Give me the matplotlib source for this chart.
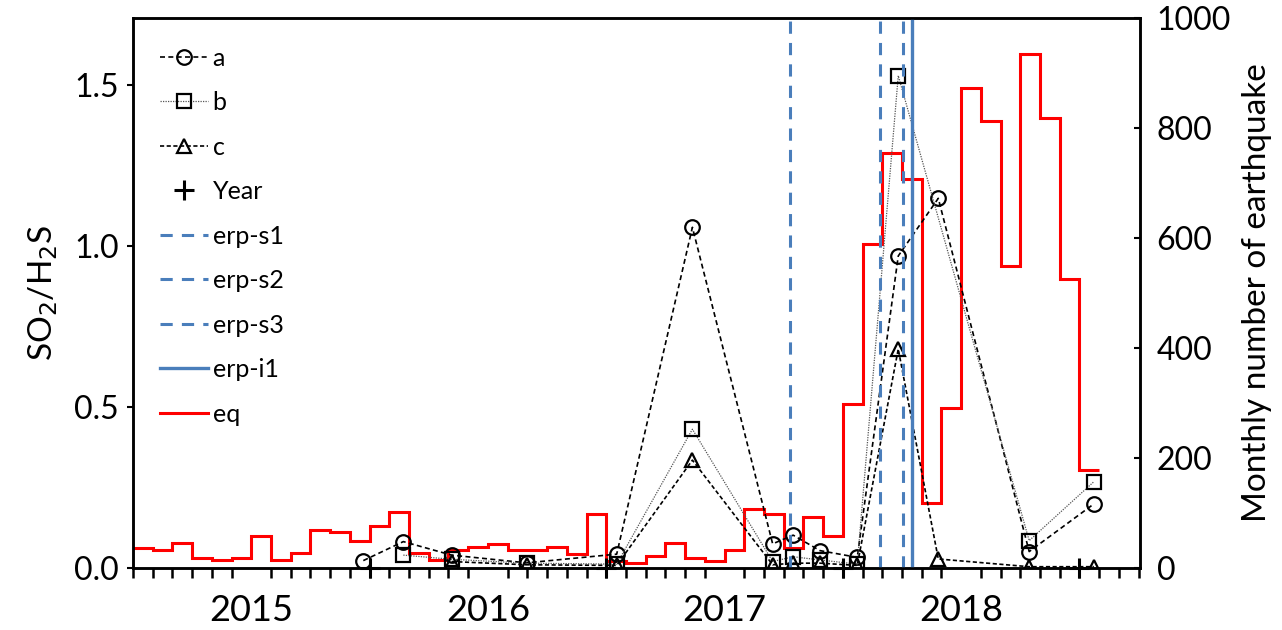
import numpy as np
import matplotlib
matplotlib.use("Agg")
import matplotlib.pyplot as plt
from matplotlib.lines import Line2D

plt.rcParams['font.family'] = ['Lato', 'DejaVu Sans']

# x positions: months since Jan 2015
dates_a = [11.68, 13.71, 16.16, 19.96, 24.53, 28.37, 32.44, 33.48, 34.84, 36.73, 38.81, 40.84, 45.45, 48.73]
a_vals = [0.023, 0.082, 0.040, 0.016, 0.043, 1.058, 0.075, 0.102, 0.054, 0.033, 0.969, 1.148, 0.051, 0.199]
dates_b = [13.71, 16.16, 19.96, 24.53, 28.37, 32.44, 33.48, 34.84, 36.73, 38.81, 45.45, 48.73]
b_vals = [0.040, 0.027, 0.015, 0.012, 0.431, 0.020, 0.035, 0.025, 0.012, 1.529, 0.085, 0.268]
dates_c = [16.16, 19.96, 24.53, 28.37, 32.44, 33.48, 34.84, 36.73, 38.81, 40.84, 45.45, 48.73]
c_vals = [0.020, 0.010, 0.008, 0.335, 0.010, 0.015, 0.015, 0.008, 0.680, 0.028, 0.004, 0.004]
year_marks = [12, 24, 36, 48]
year_labels = ['2015', '2016', '2017', '2018']
year_label_pos = [6, 18, 30, 42]
erp_s = [33.3, 37.9, 39.06]
erp_s_names = ['erp-s1', 'erp-s2', 'erp-s3']
erp_i1 = 39.49
eq_monthly = [36, 33, 45, 18, 15, 18, 59, 15, 27, 69, 66, 50, 76, 101, 27, 15, 32, 39, 43, 32,
              33, 39, 25, 98, 12, 9, 21, 45, 18, 13, 32, 108, 98, 37, 92, 59, 299, 589, 754, 707,
              118, 291, 872, 813, 549, 934, 819, 525, 179]

fig = plt.figure(figsize=(12.82, 6.30), dpi=100)
ax = fig.add_axes([133/1282, 1-568/630, (1140-133)/1282, (568-18)/630])
ax2 = ax.twinx()
ax.set_zorder(ax2.get_zorder() + 1)
ax.patch.set_visible(False)

blue = '#4a7ebb'
# earthquakes (right axis)
edges = np.arange(len(eq_monthly) + 1)
ax2.stairs(eq_monthly, edges, baseline=None, color='red', lw=2.2)
ax2.set_ylim(0, 1000)
ax2.set_yticks([0, 200, 400, 600, 800, 1000])
ax2.set_ylabel('Monthly number of earthquake', fontsize=24, labelpad=8)

la, = ax.plot(dates_a, a_vals, ls=(0, (3, 2)), color='black', lw=1.2, marker='o',
              ms=10.5, mfc='none', mec='black', mew=1.6, label='a')
lb, = ax.plot(dates_b, b_vals, ls=(0, (1, 1)), color='#555555', lw=0.9, marker='s',
              ms=10, mfc='none', mec='black', mew=1.6, label='b')
lc, = ax.plot(dates_c, c_vals, ls=(0, (2.5, 1.5)), color='black', lw=1.2, marker='^',
              ms=10.5, mfc='none', mec='black', mew=1.6, label='c')
ly, = ax.plot(year_marks, [0]*len(year_marks), ls='none', marker='+', ms=15, mew=2.2,
              color='black', clip_on=False, label='Year')
handles = [la, lb, lc, ly]
for xv, nm in zip(erp_s, erp_s_names):
    h = ax.axvline(xv, color=blue, lw=2.2, ls=(0, (4, 3)), label=nm)
    handles.append(h)
hi = ax.axvline(erp_i1, color=blue, lw=2.4, ls='-', label='erp-i1')
handles.append(hi)
heq = Line2D([], [], color='red', lw=2.2, label='eq')
handles.append(heq)

ax.set_xlim(0, 51.07)
ax.set_ylim(0, 1.708)
ax.set_yticks([0, 0.5, 1.0, 1.5])
ax.set_yticklabels(['0.0', '0.5', '1.0', '1.5'])
ax.set_ylabel('SO$_2$/H$_2$S', fontsize=24, labelpad=10)

ax.set_xticks(year_label_pos)
ax.set_xticklabels(year_labels, fontsize=26)
ax.set_xticks(np.arange(0, 52), minor=True)
ax.tick_params(axis='x', which='major', length=0, pad=19)
ax.tick_params(axis='x', which='minor', length=7, width=1.8, direction='out')
ax.tick_params(axis='y', labelsize=23, length=4, width=1.5, direction='out', pad=6)
ax2.tick_params(axis='y', labelsize=23, length=4, width=1.5, direction='in', pad=12)

for a_ in (ax, ax2):
    for s in a_.spines.values():
        s.set_linewidth(1.8)
        s.set_color('black')

leg = ax.legend(handles=handles, loc='upper left', bbox_to_anchor=(0.017, 0.966),
                frameon=False, fontsize=18, handlelength=1.9, handletextpad=0.2,
                labelspacing=0.86, borderaxespad=0.0)

fig.savefig('out.png', dpi=100)
